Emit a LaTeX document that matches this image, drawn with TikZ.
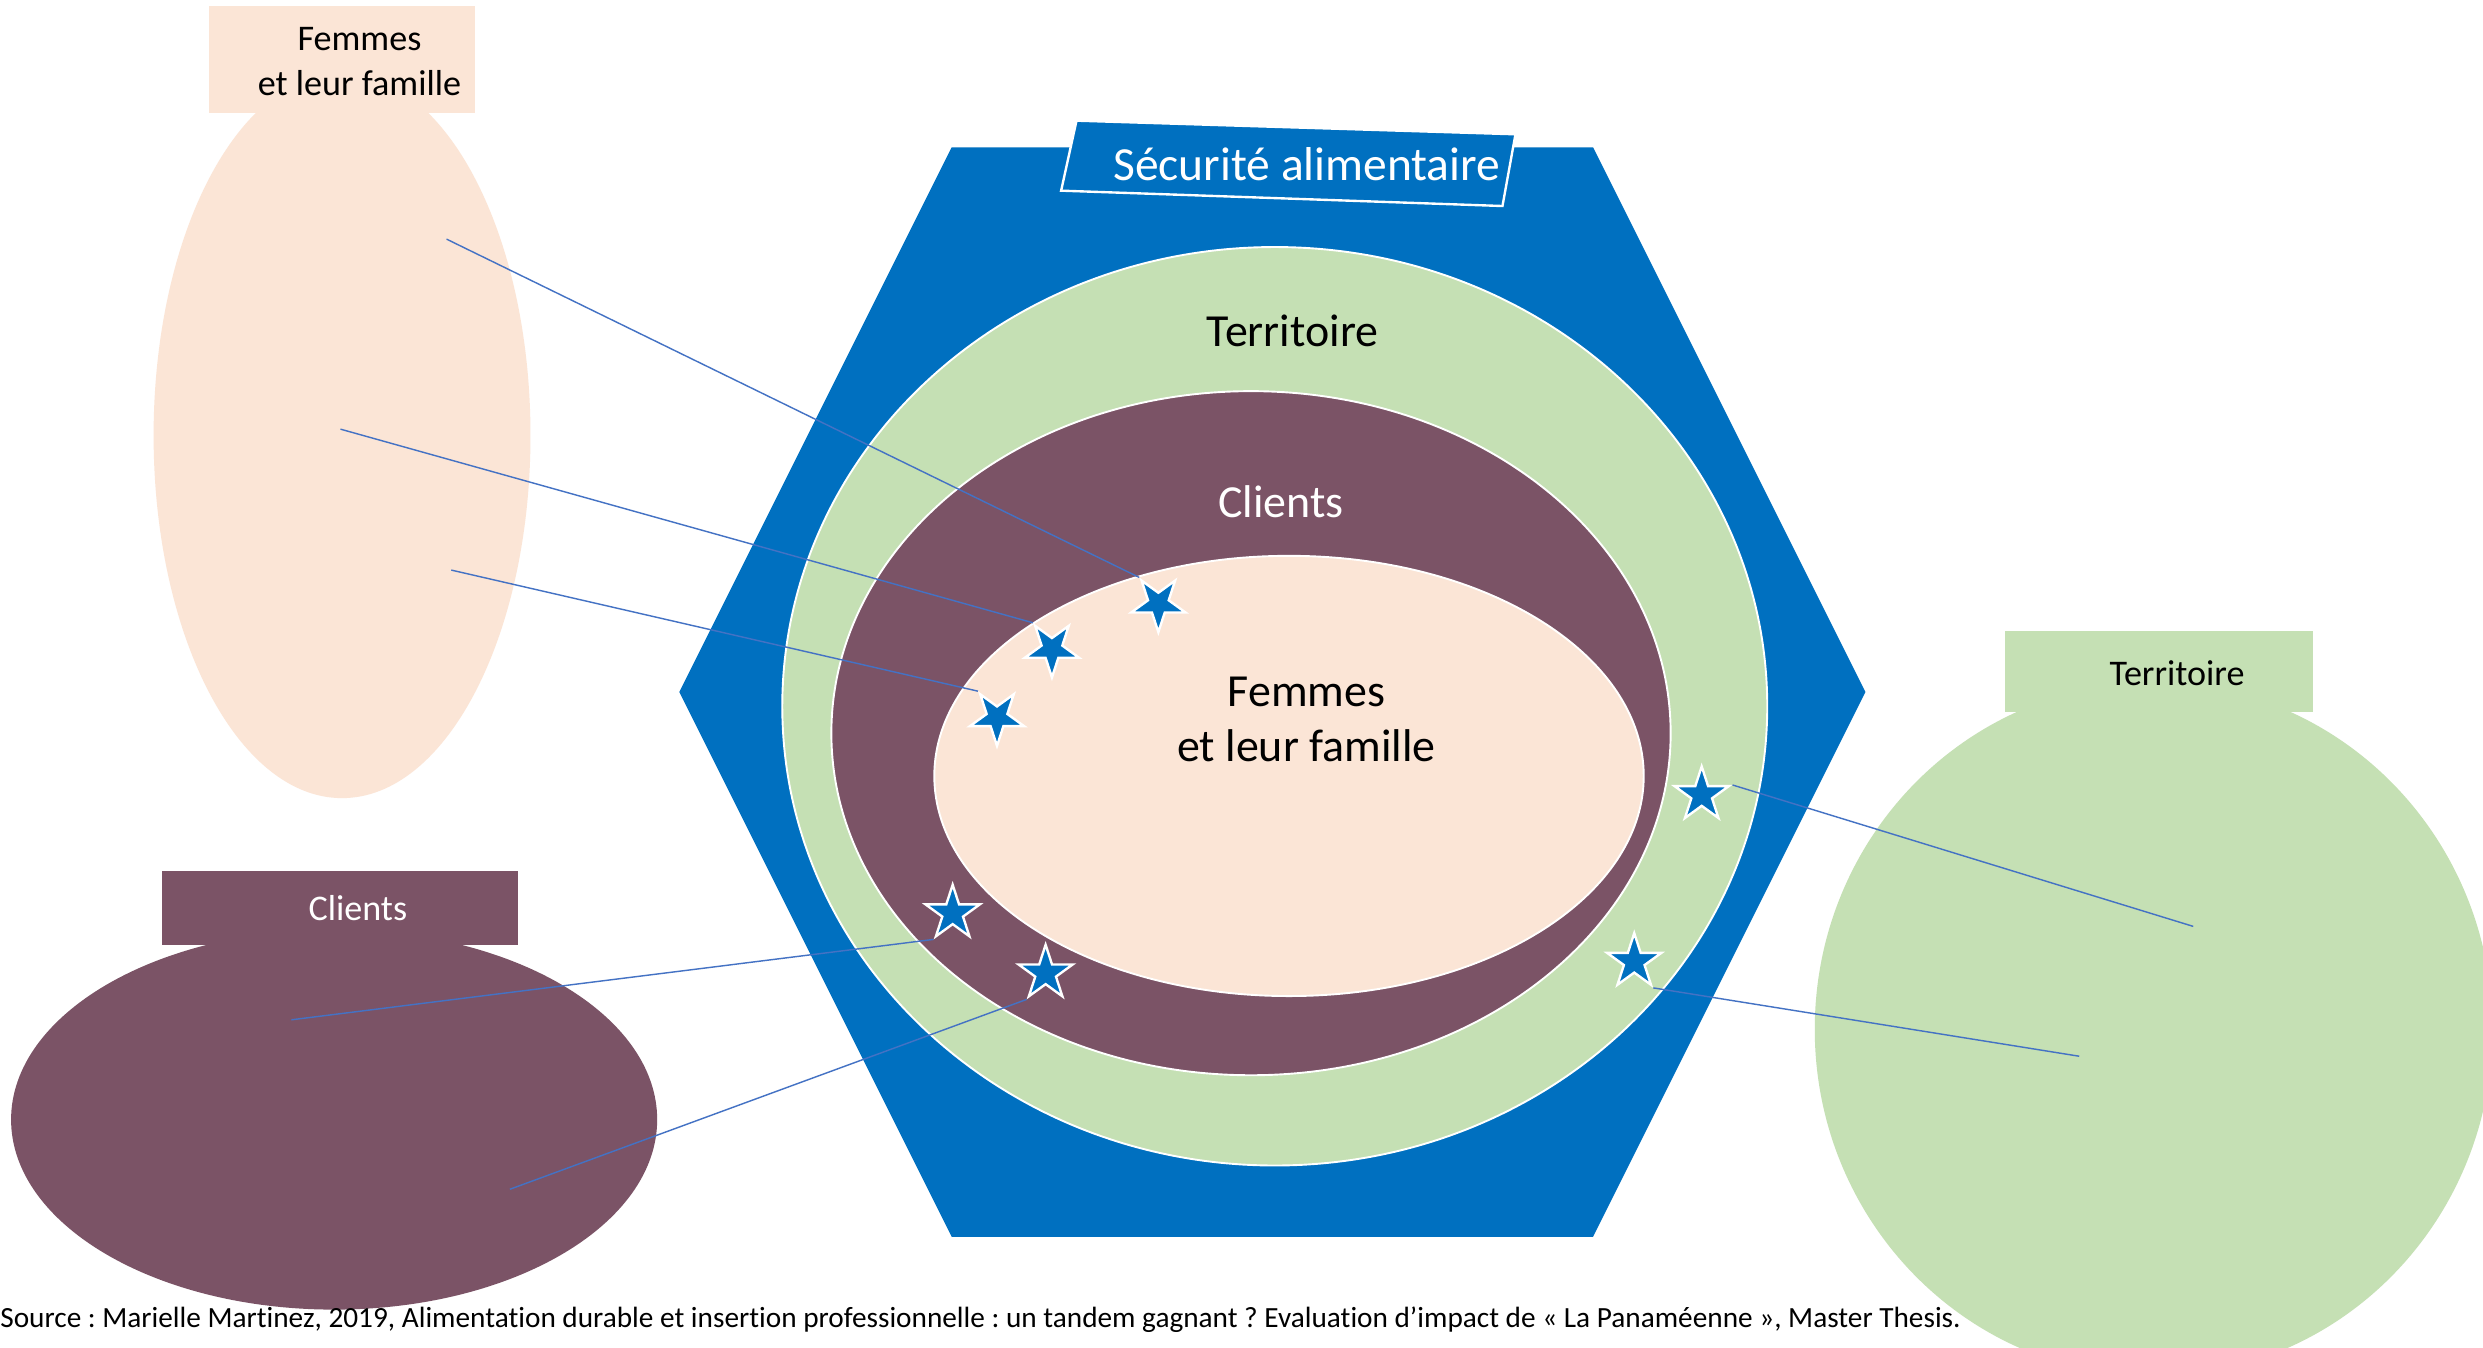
\documentclass[tikz,border=0pt]{standalone}
\usepackage{fontspec}
\setmainfont{Carlito}[Ligatures=NoCommon]
\usetikzlibrary{shapes.geometric}
\definecolor{hexblue}{HTML}{0070C0}
\definecolor{terr}{HTML}{C5E0B4}
\definecolor{cli}{HTML}{7B5366}
\definecolor{fem}{HTML}{FBE5D6}
\definecolor{linkblue}{HTML}{4472C4}
\pgfdeclarelayer{front}
\pgfsetlayers{main,front}
\frenchspacing
\begin{document}
\begin{tikzpicture}[x=1pt,y=-1pt,
  blob/.style={ellipse, inner sep=0pt, draw=white, line width=1.2pt},
  side/.style={ellipse, inner sep=0pt},
  labelbox/.style={rectangle, inner sep=0pt},
  bigtext/.style={anchor=base, inner sep=0pt, align=center, font=\fontsize{29}{35}\selectfont},
  smalltext/.style={anchor=base, inner sep=0pt, align=center, font=\fontsize{22.8}{28}\selectfont},
  starmark/.style={star, star points=5, star point ratio=2.618, minimum size=36pt, inner sep=0pt, fill=hexblue, draw=white, line width=1.5pt},
  conn/.style={draw=linkblue, line width=0.9pt}
]
\useasboundingbox (0,0) rectangle (1568,851);
\clip (0,0) rectangle (1568,851);
\fill[white] (0,0) rectangle (1568,851);

% central hexagon and nested ellipses
\fill[hexblue] (601,93) -- (1006,93) -- (1178,437) -- (1006,781) -- (601,781) -- (429,437) -- cycle;
\node[blob, fill=terr, minimum width=622pt, minimum height=580pt] (terr) at (805,446) {};
\node[blob, fill=cli, minimum width=530pt, minimum height=432pt] (cli) at (790,463) {};
\node[blob, fill=fem, minimum width=448pt, minimum height=278pt] (fem) at (814,490) {};

% title
\filldraw[fill=hexblue, draw=white, line width=1.5pt] (679.8,76.2) -- (957.0,84.8) -- (948.8,130.1) -- (670.1,120.4) -- cycle;
\node[anchor=base, inner sep=0pt, text=white, font=\fontsize{30}{36}\selectfont] (title) at (825.2,113.7) {Sécurité alimentaire};

\node[bigtext] (tterr) at (816.2,218.9) {Territoire};
\node[bigtext, text=white] (tcli) at (809,327) {Clients};
\node[bigtext] (tfem) at (825,481) {Femmes\\et leur famille};

% side figures
\node[side, fill=fem, minimum width=238pt, minimum height=458pt] (efem) at (216,275) {};
\node[labelbox, fill=fem, minimum width=168pt, minimum height=67pt] (lfem) at (216,37.6) {};
\node[smalltext] (lfemt) at (227,60) {Femmes\\et leur famille};

\node[side, fill=cli, minimum width=408pt, minimum height=240pt] (ecli) at (211,707) {};
\node[labelbox, fill=cli, minimum width=225pt, minimum height=47pt] (lcli) at (214.5,573.5) {};
\node[smalltext, text=white] (lclit) at (226,581) {Clients};

\node[side, fill=terr, minimum width=428pt, minimum height=438pt] (eterr) at (1360,650) {};
\node[labelbox, fill=terr, minimum width=194.7pt, minimum height=51.3pt] (lterr) at (1363.3,424.1) {};
\node[smalltext] (lterrt) at (1374.8,432.6) {Territoire};

% source
\node[anchor=base west, inner sep=0pt] (src) at (0,838) {\resizebox{1238pt}{!}{Source : Marielle Martinez, 2019, Alimentation durable et insertion professionnelle : un tandem gagnant ? Evaluation d’impact de « La Panaméenne », Master Thesis.}};

% stars
\begin{pgfonlayer}{front}
\node[starmark, shape border rotate=180] (s1) at (731.5,381.2) {};
\node[starmark, shape border rotate=180] (s2) at (664.3,409.8) {};
\node[starmark, shape border rotate=180] (s3) at (629.6,453) {};
\node[starmark] (s4) at (601.6,576.7) {};
\node[starmark] (s5) at (660.3,614.6) {};
\node[starmark] (s6) at (1074.6,502) {};
\node[starmark] (s7) at (1032,607.3) {};
\end{pgfonlayer}

% connector start points
\coordinate (p1) at (282,151);
\coordinate (p2) at (215,271);
\coordinate (p3) at (285,360);
\coordinate (p4) at (184,644);
\coordinate (p5) at (322,751);
\coordinate (p6) at (1385,585);
\coordinate (p7) at (1313,667);

\draw[conn] (p1) -- (s1.outer point 4);
\draw[conn] (p2) -- (s2.outer point 4);
\draw[conn] (p3) -- (s3.outer point 4);
\draw[conn] (p4) -- (s4.outer point 3);
\draw[conn] (p5) -- (s5.outer point 3);
\draw[conn] (p6) -- (s6.outer point 5);
\draw[conn] (p7) -- (s7.outer point 4);
\end{tikzpicture}
\end{document}
